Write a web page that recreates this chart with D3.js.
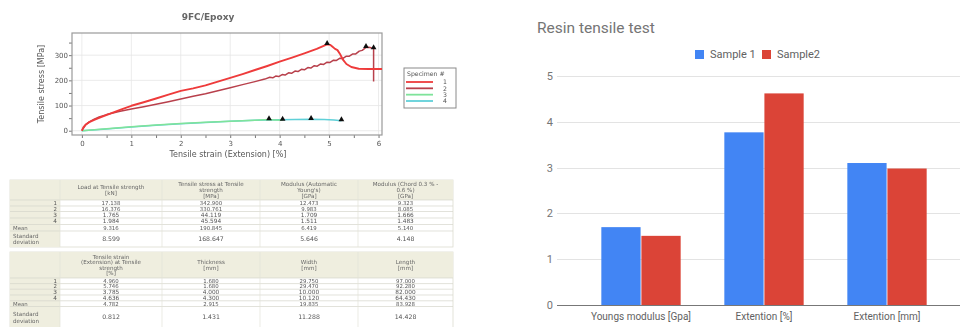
<!DOCTYPE html>
<html><head><meta charset="utf-8">
<script src="https://cdn.jsdelivr.net/npm/d3@7"></script>
<style>
body{margin:0;background:#fff}
svg{display:block}
</style>
</head><body>
<svg id="c" width="960" height="327"></svg>
<script>
// ---------- stress–strain curves: [strain %, stress MPa] ----------
const specimen1 = [[0,0],[0.03,13],[0.08,25],[0.15,34],[0.25,43],[0.4,55],[0.6,70],[0.8,85],[1.0,99],[1.25,113],[1.5,128],[1.75,143],[2.0,158],[2.25,168],[2.5,180],[2.75,195],[3.0,210],[3.25,225],[3.5,241],[3.75,257],[4.0,274],[4.25,290],[4.5,307],[4.75,325],[4.96,342.9],[5.02,341],[5.07,333],[5.12,325],[5.17,320],[5.22,305],[5.28,282],[5.35,265],[5.45,253],[5.6,246],[5.8,245],[6.1,245]];
const specimen2 = [[0,0],[0.03,10],[0.08,24],[0.15,35],[0.25,46],[0.35,55],[0.5,64],[0.75,76],[1.0,86],[1.25,95],[1.5,105],[1.75,115],[2.0,126],[2.25,137],[2.5,147],[2.75,159],[3.0,171],[3.25,183],[3.5,195],[3.7,205],[3.80,212],[3.86,210],[3.92,217],[3.98,215],[4.05,223],[4.11,221],[4.18,230],[4.24,228],[4.31,237],[4.37,235],[4.44,244],[4.50,242],[4.57,251],[4.63,249],[4.70,258],[4.76,256],[4.83,265],[4.89,263],[4.96,272],[5.02,271],[5.09,280],[5.15,279],[5.22,288],[5.28,287],[5.35,296],[5.41,296],[5.48,305],[5.54,305],[5.61,316],[5.67,319],[5.746,330.8],[5.80,331],[5.85,329],[5.90,326],[5.90,195]];
const specimen3 = [[0,0],[0.25,4],[0.5,8],[0.75,12],[1.0,16],[1.5,23],[2.0,29],[2.5,34],[3.0,38],[3.5,42],[3.785,44.1],[3.9,43],[4.06,42]];
const specimen4 = [[0,0],[0.5,7],[1.0,15],[1.5,22],[2.0,28],[2.5,33],[3.0,38],[3.5,42],[4.0,44],[4.3,45],[4.636,45.6],[4.9,44.5],[5.1,42.5],[5.25,40]];
const specimenNames = ["1","2","3","4"];
const specimenColors = ["#ee3b3b","#b8404c","#7fe39a","#5fd0d8"];
// strength / break markers
const markerPoints = [[4.96,342.9],[5.746,330.8],[5.9,326],[3.785,44.1],[4.06,42],[4.636,45.6],[5.25,40]];
const strainTicks = [0,1,2,3,4,5,6];
const stressTicks = [0,100,200,300];

// ---------- result tables ----------
const rowLabels = ["1","2","3","4","Mean",["Standard","deviation"]];
const table1Headers = [["Load at Tensile strength","[kN]"],["Tensile stress at Tensile","strength","[MPa]"],["Modulus (Automatic","Young's)","[GPa]"],["Modulus (Chord 0.3 % -","0.6 %)","[GPa]"]];
const loadAtStrength = ["17.138","16.376","1.765","1.984","9.316","8.599"];
const stressAtStrength = ["342.900","330.761","44.119","45.594","190.845","168.647"];
const modulusAuto = ["12.473","9.983","1.709","1.511","6.419","5.646"];
const modulusChord = ["9.323","8.085","1.666","1.483","5.140","4.148"];
const table2Headers = [["Tensile strain","(Extension) at Tensile","strength","[%]"],["Thickness","[mm]"],["Width","[mm]"],["Length","[mm]"]];
const strainAtStrength = ["4.960","5.746","3.785","4.636","4.782","0.812"];
const thickness = ["1.680","1.680","4.000","4.300","2.915","1.431"];
const width = ["29.750","29.470","10.000","10.120","19.835","11.288"];
const length = ["97.000","92.280","82.000","64.430","83.928","14.428"];

// ---------- bar chart ----------
const categories = ["Youngs modulus [Gpa]","Extention [%]","Extention [mm]"];
const seriesNames = ["Sample 1","Sample2"];
const sample1 = [1.70,3.77,3.10];
const sample2 = [1.51,4.62,2.98];
const barTicks = [0,1,2,3,4,5];
const barColors = ["#4285f4","#db4437"];

const svg = d3.select("#c");
svg.append("rect").attr("width",960).attr("height",327).attr("fill","#fff");
const defs = svg.append("defs");
defs.append("filter").attr("id","soft").attr("x","-5%").attr("y","-5%").attr("width","110%").attr("height","110%")
  .append("feGaussianBlur").attr("stdDeviation",0.6);
defs.append("clipPath").attr("id","plotclip").append("rect")
  .attr("x",72).attr("y",33).attr("width",310).attr("height",102);

// ===== left: stress–strain plot =====
const left = svg.append("g").attr("filter","url(#soft)");
const sx = d3.scaleLinear().domain([-0.2,6.07]).range([72,382]);
const sy = d3.scaleLinear().domain([-17,388]).range([135,33]);
const lf = "DejaVu Sans, Verdana, sans-serif";

left.append("text").attr("x",208).attr("y",20).attr("text-anchor","middle")
  .attr("font-family",lf).attr("font-size",9).attr("font-weight","bold").attr("fill","#666").text("9FC/Epoxy");

const plot = left.append("g");
plot.append("rect").attr("x",72).attr("y",33).attr("width",310).attr("height",102)
  .attr("fill","#fff");
// grid
plot.selectAll(".gx").data(strainTicks).join("line")
  .attr("x1",d=>sx(d)).attr("x2",d=>sx(d)).attr("y1",33).attr("y2",135)
  .attr("stroke","#e6e6e6").attr("stroke-width",0.8);
plot.selectAll(".gy").data(stressTicks).join("line")
  .attr("y1",d=>sy(d)).attr("y2",d=>sy(d)).attr("x1",72).attr("x2",382)
  .attr("stroke","#e6e6e6").attr("stroke-width",0.8);

// axes
const xAxis = plot.append("g").attr("transform","translate(0,135)")
  .call(d3.axisBottom(sx).tickValues(d3.range(0,6.01,0.5)).tickSize(3).tickPadding(3)
    .tickFormat(d=>Number.isInteger(d)?d:""));
const yAxis = plot.append("g").attr("transform","translate(72,0)")
  .call(d3.axisLeft(sy).tickValues(d3.range(0,351,50)).tickSize(3).tickPadding(1)
    .tickFormat(d=>d%100===0?d:""));
[xAxis,yAxis].forEach(a=>{
  a.select(".domain").remove();
  a.selectAll("line").attr("stroke","#777");
  a.selectAll("text").attr("font-family",lf).attr("font-size",7).attr("fill","#555");
});
plot.append("rect").attr("x",72).attr("y",33).attr("width",310).attr("height",102)
  .attr("fill","none").attr("stroke","#9a9a9a").attr("stroke-width",1.2);

left.append("text").attr("transform","translate(44,84) rotate(-90)").attr("text-anchor","middle")
  .attr("font-family",lf).attr("font-size",8).attr("fill","#555").text("Tensile stress [MPa]");
left.append("text").attr("x",228).attr("y",157).attr("text-anchor","middle")
  .attr("font-family",lf).attr("font-size",8).attr("fill","#555").text("Tensile strain (Extension) [%]");

const line = d3.line().x(d=>sx(d[0])).y(d=>sy(d[1]));
const curves = [specimen1,specimen2,specimen3,specimen4];
const curveG = plot.append("g").attr("clip-path","url(#plotclip)");
[3,2,1,0].forEach(i=>{
  curveG.append("path").datum(curves[i]).attr("d",line).attr("fill","none")
    .attr("stroke",specimenColors[i]).attr("stroke-width",i===0?1.9:1.5).attr("stroke-linejoin","round");
});
curveG.selectAll(".mk").data(markerPoints).join("path")
  .attr("d",d3.symbol(d3.symbolTriangle,14))
  .attr("transform",d=>`translate(${sx(d[0])},${sy(d[1])-1})`).attr("fill","#111");

// legend
const lg = left.append("g");
lg.append("rect").attr("x",404).attr("y",68).attr("width",52).attr("height",40)
  .attr("fill","#fff").attr("stroke","#8a8a8a").attr("stroke-width",1);
lg.append("text").attr("x",407).attr("y",76).attr("font-family",lf).attr("font-size",6.2).attr("fill","#555").text("Specimen #");
const lgy = d3.scalePoint().domain(specimenNames).range([82,101]);
lg.selectAll(".ll").data(specimenNames).join("line")
  .attr("x1",406).attr("x2",433).attr("y1",d=>lgy(d)).attr("y2",d=>lgy(d))
  .attr("stroke",(d,i)=>specimenColors[i]).attr("stroke-width",1.8);
lg.selectAll(".lt").data(specimenNames).join("text")
  .attr("x",443).attr("y",d=>lgy(d)+2.2).attr("font-family",lf).attr("font-size",6.2).attr("fill","#555").text(d=>d);

// tables
const colEdges = [10,60,162,260,358,453];
function drawTable(top, headBottom, rowEdges, headers, cols){
  const g = left.append("g");
  const bottom = rowEdges[rowEdges.length-1];
  g.append("rect").attr("x",colEdges[0]).attr("y",top).attr("width",colEdges[5]-colEdges[0]).attr("height",bottom-top)
    .attr("fill","#fff").attr("stroke","#dcdccf").attr("stroke-width",0.8);
  g.append("rect").attr("x",colEdges[0]).attr("y",top).attr("width",colEdges[5]-colEdges[0]).attr("height",headBottom-top)
    .attr("fill","#efeedf");
  g.append("rect").attr("x",colEdges[0]).attr("y",top).attr("width",colEdges[1]-colEdges[0]).attr("height",bottom-top)
    .attr("fill","#efeedf");
  // row rules
  g.selectAll(".rr").data(rowEdges.slice(0,-1)).join("line")
    .attr("x1",colEdges[0]).attr("x2",colEdges[5]).attr("y1",d=>d).attr("y2",d=>d)
    .attr("stroke","#d6d6cc").attr("stroke-width",0.7);
  // column rules
  g.selectAll(".cr").data(colEdges.slice(1,-1)).join("line")
    .attr("x1",d=>d).attr("x2",d=>d).attr("y1",top).attr("y2",bottom)
    .attr("stroke","#e2e2d8").attr("stroke-width",0.7);
  // headers
  headers.forEach((lines,ci)=>{
    const cx = (colEdges[ci+1]+colEdges[ci+2])/2;
    const mid = (top+headBottom)/2, lh = 5.6;
    lines.forEach((t,li)=>{
      g.append("text").attr("x",cx).attr("y",mid+(li-(lines.length-1)/2)*lh+2)
        .attr("text-anchor","middle").attr("font-family",lf).attr("font-size",5.6).attr("fill","#666").text(t);
    });
  });
  // body
  rowLabels.forEach((lab,ri)=>{
    const y0 = rowEdges[ri], y1 = rowEdges[ri+1], cy = (y0+y1)/2;
    const fs = (ri===2||ri===3)?5.8:5.4;
    if(Array.isArray(lab)){
      lab.forEach((t,li)=>g.append("text").attr("x",13).attr("y",cy+(li-0.5)*6.5+2.2)
        .attr("font-family",lf).attr("font-size",5.6).attr("fill","#666").text(t));
    } else if(lab==="Mean"){
      g.append("text").attr("x",13).attr("y",cy+2).attr("font-family",lf).attr("font-size",5.4).attr("fill","#666").text(lab);
    } else {
      g.append("text").attr("x",57).attr("y",cy+2).attr("text-anchor","end")
        .attr("font-family",lf).attr("font-size",fs).attr("fill","#555").text(lab);
    }
    cols.forEach((arr,ci)=>{
      g.append("text").attr("x",(colEdges[ci+1]+colEdges[ci+2])/2).attr("y",cy+2)
        .attr("text-anchor","middle").attr("font-family",lf).attr("font-size",ri===5?6.2:fs).attr("fill","#555").text(arr[ri]);
    });
  });
}
drawTable(180,200,[200,206,211.5,218,224.5,231,247],table1Headers,[loadAtStrength,stressAtStrength,modulusAuto,modulusChord]);
drawTable(252,278,[278,283.6,289.2,295,300.8,306.5,328],table2Headers,[strainAtStrength,thickness,width,length]);

// ===== right: grouped bar chart =====
const rf = "Roboto, Arial, sans-serif";
const right = svg.append("g");
const by = d3.scaleLinear().domain([0,5]).range([305,76]);
const bx = d3.scaleBand().domain(categories).range([579.5,948.5]).paddingInner(0.355).paddingOuter(0.1775);
const bs = d3.scaleBand().domain(seriesNames).range([0,bx.bandwidth()]).paddingInner(0.02);

right.append("text").attr("x",537).attr("y",33).attr("font-family",rf).attr("font-size",15.5)
  .attr("fill","#757575").text("Resin tensile test");

right.selectAll(".grid").data(barTicks.filter(d=>d>0)).join("line")
  .attr("x1",557).attr("x2",960).attr("y1",d=>Math.round(by(d))+0.5).attr("y2",d=>Math.round(by(d))+0.5)
  .attr("stroke","#e3e3e3").attr("stroke-width",1);
right.selectAll(".tl").data(barTicks).join("text")
  .attr("x",553).attr("y",d=>by(d)+4).attr("text-anchor","end")
  .attr("font-family",rf).attr("font-size",11).attr("fill","#757575").text(d=>d);

const seriesValues = [sample1,sample2];
categories.forEach((c,ci)=>{
  seriesNames.forEach((s,si)=>{
    const v = seriesValues[si][ci];
    right.append("rect").attr("x",bx(c)+bs(s)).attr("width",bs.bandwidth())
      .attr("y",by(v)).attr("height",by(0)-by(v)).attr("fill",barColors[si]);
  });
});
right.append("line").attr("x1",557).attr("x2",960).attr("y1",305.5).attr("y2",305.5)
  .attr("stroke","#777").attr("stroke-width",1);

right.selectAll(".cl").data(categories).join("text")
  .attr("x",d=>bx(d)+bx.bandwidth()/2).attr("y",320).attr("text-anchor","middle")
  .attr("font-family",rf).attr("font-size",10).attr("fill","#616161").text(d=>d);

// legend
const leg = right.append("g");
const legX = [695,762];
seriesNames.forEach((s,i)=>{
  leg.append("rect").attr("x",legX[i]).attr("y",50).attr("width",9).attr("height",9).attr("fill",barColors[i]);
  leg.append("text").attr("x",legX[i]+15).attr("y",58).attr("font-family",rf).attr("font-size",11)
    .attr("fill","#616161").text(s);
});
</script>
</body></html>
